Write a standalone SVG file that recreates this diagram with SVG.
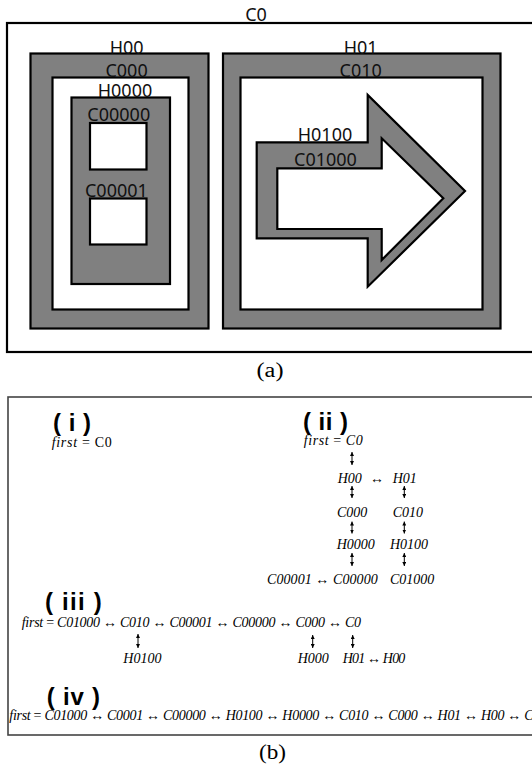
<svg xmlns="http://www.w3.org/2000/svg" width="532" height="764" viewBox="0 0 532 764">
<style>
.lbl{font-family:"Noto Sans","Open Sans",sans-serif;font-size:18px;fill:#111;text-anchor:middle}
.band{fill:#808080;stroke:#000;stroke-width:2.2}
.hole{fill:#fff;stroke:#000;stroke-width:2.2}
.frame{fill:#fff;stroke:#000;stroke-width:2.2}
.m{font-family:"Liberation Serif","Times New Roman",serif;font-size:14px;font-style:italic;fill:#000}
.up{font-style:normal}
.hd{font-family:"Liberation Sans",Arial,sans-serif;font-weight:bold;font-size:24px;fill:#000}
.cap{font-family:"Liberation Serif","Times New Roman",serif;font-size:20px;fill:#000;text-anchor:middle}
.va{stroke:#000;stroke-width:1;fill:none;marker-start:url(#ah);marker-end:url(#ah)}
</style>
<defs>
<marker id="ah" viewBox="0 0 6 6" refX="6" refY="3" markerUnits="userSpaceOnUse" markerWidth="4" markerHeight="4" orient="auto-start-reverse"><path d="M0,0 L6,3 L0,6 z" fill="#000"/></marker>
</defs>

<g id="panel-a">
<g id="C0"><rect class="frame" x="7" y="23" width="540" height="329"/><text class="lbl" x="256" y="21">C0</text></g>
<g id="H00"><rect class="band" x="30.5" y="53.5" width="178" height="275"/><text class="lbl" x="126.6" y="53.5">H00</text></g>
<g id="C000"><rect class="hole" x="52.5" y="77.5" width="136" height="232"/><text class="lbl" x="126.6" y="77">C000</text></g>
<g id="H0000"><rect class="band" x="71.5" y="97.5" width="98.5" height="186.5"/><text class="lbl" x="125" y="96.5">H0000</text></g>
<g id="C00000"><rect class="hole" x="90" y="123" width="56.5" height="46.5"/><text class="lbl" x="118.8" y="120.5">C00000</text></g>
<g id="C00001"><rect class="hole" x="90" y="198.5" width="56.5" height="46"/><text class="lbl" x="116.4" y="197">C00001</text></g>
<g id="H01"><rect class="band" x="223" y="53.5" width="277.5" height="275"/><text class="lbl" x="360.7" y="53.5">H01</text></g>
<g id="C010"><rect class="hole" x="240.5" y="77.5" width="242" height="232"/><text class="lbl" x="360.7" y="77">C010</text></g>
<g id="H0100"><polygon class="band" points="256.7,142.3 367.7,142.3 367.7,95 465,191 367.7,286.7 367.7,238.3 256.7,238.3"/><text class="lbl" x="325" y="141">H0100</text></g>
<g id="C01000"><polygon class="hole" points="277.3,168.3 381.7,168.3 381.7,138.3 443.3,198.3 381.7,260 381.7,229 277.3,229"/><text class="lbl" x="325.5" y="165.5">C01000</text></g>
<text class="cap" x="270" y="377" textLength="27" lengthAdjust="spacingAndGlyphs">(a)</text>
</g>

<g id="panel-b">
<rect x="8" y="397" width="540" height="338" fill="none" stroke="#444" stroke-width="1.6"/>
<g id="case-i">
<text class="hd" x="53" y="431" textLength="38" lengthAdjust="spacing">( i )</text>
<text class="m" x="51.7" y="447" textLength="60" lengthAdjust="spacing">first<tspan class="up"> = C0</tspan></text>
</g>
<g id="case-ii">
<text class="hd" x="303" y="430" textLength="45" lengthAdjust="spacing">( ii )</text>
<text class="m" x="303.7" y="445" textLength="59" lengthAdjust="spacing">first<tspan class="up"> = </tspan>C0</text>
<text class="m" x="337.7" y="482.5">H00</text>
<text class="m up" x="377" y="482.5" text-anchor="middle">↔</text>
<text class="m" x="392.7" y="482.5">H01</text>
<text class="m" x="337" y="517">C000</text>
<text class="m" x="392.7" y="517">C010</text>
<text class="m" x="336.7" y="549">H0000</text>
<text class="m" x="390" y="549">H0100</text>
<text class="m" x="267" y="583.5" textLength="110.7" lengthAdjust="spacing">C00001<tspan class="up"> ↔ </tspan>C00000</text>
<text class="m" x="390" y="583.5">C01000</text>
</g>
<g id="case-iii">
<text class="hd" x="45" y="610" textLength="56.7" lengthAdjust="spacing">( iii )</text>
<text class="m" x="21.7" y="626.5" textLength="339.3" lengthAdjust="spacing">first<tspan class="up"> = </tspan>C01000<tspan class="up"> ↔ </tspan>C010<tspan class="up"> ↔ </tspan>C00001<tspan class="up"> ↔ </tspan>C00000<tspan class="up"> ↔ </tspan>C000<tspan class="up"> ↔ </tspan>C0</text>
<text class="m" x="123.3" y="663">H0100</text>
<text class="m" x="297.7" y="663">H000</text>
<text class="m" x="342.7" y="663" textLength="62.6" lengthAdjust="spacing">H01<tspan class="up"> ↔ </tspan>H00</text>
</g>
<g id="case-iv">
<text class="hd" x="46.7" y="705" textLength="53.3" lengthAdjust="spacing">( iv )</text>
<text class="m" x="9.3" y="720" textLength="531" lengthAdjust="spacing">first<tspan class="up"> = </tspan>C01000<tspan class="up"> ↔ </tspan>C0001<tspan class="up"> ↔ </tspan>C00000<tspan class="up"> ↔ </tspan>H0100<tspan class="up"> ↔ </tspan>H0000<tspan class="up"> ↔ </tspan>C010<tspan class="up"> ↔ </tspan>C000<tspan class="up"> ↔ </tspan>H01<tspan class="up"> ↔ </tspan>H00<tspan class="up"> ↔ </tspan>C0</text>
</g>
<g id="connectors">
<line class="va" x1="352" y1="452" x2="352" y2="465"/>
<line class="va" x1="352" y1="486" x2="352" y2="498"/>
<line class="va" x1="404.3" y1="486" x2="404.3" y2="498"/>
<line class="va" x1="352" y1="521.5" x2="352" y2="533.5"/>
<line class="va" x1="404.3" y1="521.5" x2="404.3" y2="533.5"/>
<line class="va" x1="352" y1="553" x2="352" y2="566"/>
<line class="va" x1="404.3" y1="553" x2="404.3" y2="566"/>
<line class="va" x1="138" y1="634" x2="138" y2="648"/>
<line class="va" x1="312.7" y1="635" x2="312.7" y2="648"/>
<line class="va" x1="352.7" y1="635" x2="352.7" y2="648"/>
</g>
<text class="cap" x="272.5" y="759" textLength="27" lengthAdjust="spacingAndGlyphs">(b)</text>
</g>
</svg>
